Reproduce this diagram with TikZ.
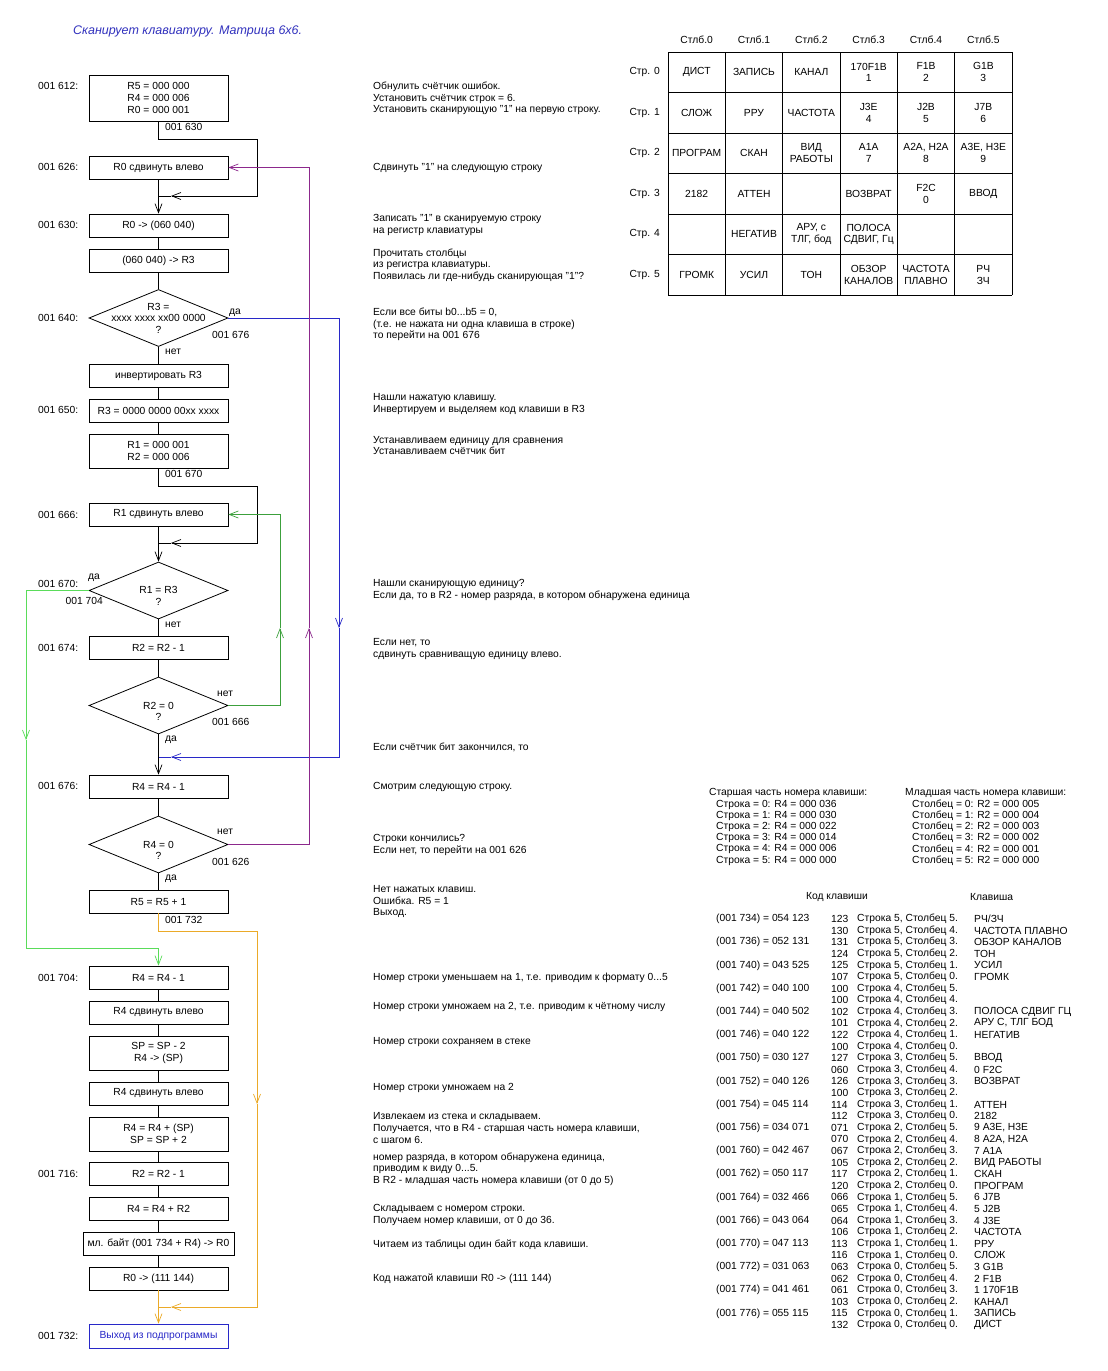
\documentclass[tikz,border=0pt]{standalone}
\usepackage{fontspec}
\setmainfont{Liberation Sans}
\usetikzlibrary{arrows.meta,shapes.geometric}

\definecolor{titel}{RGB}{50,50,190}
\definecolor{blau}{RGB}{40,40,200}
\definecolor{lila}{RGB}{140,40,140}
\definecolor{gruen}{RGB}{60,160,60}
\definecolor{hellgruen}{RGB}{90,220,90}
\definecolor{gelb}{RGB}{235,170,40}

\tikzset{
    schrift/.style={font=\fontsize{10.3}{11.6}\selectfont},
    blok/.style={draw, line width=0.8pt, minimum width=139pt, minimum height=23pt, inner sep=1pt, align=center, schrift},
    romb/.style={draw, diamond, line width=0.8pt, minimum width=139pt, minimum height=57pt, inner sep=0pt},
    marke/.style={anchor=west, inner sep=0pt, schrift},
    notiz/.style={anchor=west, inner sep=0pt, align=left, schrift},
    zelle/.style={inner sep=0pt, align=center, schrift},
    linie/.style={line width=0.7pt},
    pfeil/.style={linie, -{Straight Barb[length=9pt,width=7pt]}},
}

\begin{document}
\begin{tikzpicture}[x=1pt, y=-1pt]
    \useasboundingbox (0,0) rectangle (1108,1371);
    \fill[white] (0,0) rectangle (1108,1371);

    \node[marke, font=\fontsize{12.5}{14}\selectfont\itshape, text=titel] (titel) at (73,31) {Сканирует клавиатуру. Матрица 6х6.};

    % Blockschema
    \node[blok, minimum height=46pt] (b1) at (158.5,98) {R5 = 000 000\\R4 = 000 006\\R0 = 000 001};
    \node[blok] (b2) at (158.5,167.5) {R0 сдвинуть влево};
    \node[blok] (b3) at (158.5,225.5) {R0 -> (060 040)};
    \node[blok] (b4) at (158.5,260.5) {(060 040) -> R3};
    \node[romb] (d1) at (158.5,318) {};
    \node[zelle] (d1t) at (158.5,318) {R3 =\\xxxx xxxx xx00 0000\\?};
    \node[blok] (b5) at (158.5,376) {инвертировать R3};
    \node[blok] (b6) at (158.5,410.5) {R3 = 0000 0000 00xx xxxx};
    \node[blok, minimum height=34pt] (b7) at (158.5,451) {R1 = 000 001\\R2 = 000 006};
    \node[blok] (b8) at (158.5,514.5) {R1 сдвинуть влево};
    \node[romb] (d2) at (158.5,590.5) {};
    \node[zelle] (d2t) at (158.5,596) {R1 = R3\\?};
    \node[blok] (b9) at (158.5,647.5) {R2 = R2 - 1};
    \node[romb] (d3) at (158.5,705.5) {};
    \node[zelle] (d3t) at (158.5,711.5) {R2 = 0\\?};
    \node[blok] (b10) at (158.5,786.5) {R4 = R4 - 1};
    \node[romb] (d4) at (158.5,844.5) {};
    \node[zelle] (d4t) at (158.5,850.5) {R4 = 0\\?};
    \node[blok] (b11) at (158.5,901.5) {R5 = R5 + 1};
    \node[blok] (b12) at (158.5,977.5) {R4 = R4 - 1};
    \node[blok] (b13) at (158.5,1012.5) {R4 сдвинуть влево};
    \node[blok, minimum height=34pt] (b14) at (158.5,1053) {SP = SP - 2\\R4 -> (SP)};
    \node[blok] (b15) at (158.5,1093.5) {R4 сдвинуть влево};
    \node[blok, minimum height=34pt] (b16) at (158.5,1134) {R4 = R4 + (SP)\\SP = SP + 2};
    \node[blok] (b17) at (158.5,1173.5) {R2 = R2 - 1};
    \node[blok] (b18) at (158.5,1208.5) {R4 = R4 + R2};
    \node[blok, minimum width=151pt] (b19) at (158.5,1243.5) {мл. байт (001 734 + R4) -> R0};
    \node[blok] (b20) at (158.5,1278.5) {R0 -> (111 144)};
    \node[blok, draw=blau, text=blau, minimum height=24pt] (b21) at (158.5,1336) {Выход из подпрограммы};

    \foreach \a/\y in {612/86, 626/167, 630/225, 640/318, 650/410, 666/515, 670/584, 674/648, 676/786, 704/978, 716/1174, 732/1336} {
        \node[marke] (adr\a) at (38,\y) {001 \a:};
    }

    \node[marke] (n630) at (165,127) {001 630};
    \node[marke] (n670) at (165,474) {001 670};
    \node[marke] (n732) at (165,920) {001 732};
    \node[marke] (d1ja) at (229,313) {да};
    \node[marke] (d1z) at (212,335) {001 676};
    \node[marke] (d1ne) at (165,352) {нет};
    \node[marke, anchor=east] (d2ja) at (100,578) {да};
    \node[marke, anchor=east] (d2z) at (103,601) {001 704};
    \node[marke] (d2ne) at (165,625) {нет};
    \node[marke] (d3ne) at (217,694) {нет};
    \node[marke] (d3z) at (212,722) {001 666};
    \node[marke] (d3ja) at (165,740) {да};
    \node[marke] (d4ne) at (217,832) {нет};
    \node[marke] (d4z) at (212,862) {001 626};
    \node[marke] (d4ja) at (165,879) {да};

    \coordinate (s1a) at (158.5,139);
    \coordinate (s1b) at (257,196);
    \coordinate (s1c) at (171,196);
    \coordinate (s1d) at (158.5,196);
    \coordinate (s2a) at (158.5,486);
    \coordinate (s2b) at (257,543);
    \coordinate (s2c) at (171,543);
    \coordinate (s2d) at (158.5,543);
    \draw[pfeil] (b1.south) -- (s1a) -| (s1b) -- (s1c);
    \draw[linie] (s1c) -- (s1d);
    \draw[pfeil] (b2.south) -- (b3.north);
    \draw[linie] (b3.south) -- (b4.north);
    \draw[linie] (b4.south) -- (d1.north);
    \draw[linie] (d1.south) -- (b5.north);
    \draw[linie] (b5.south) -- (b6.north);
    \draw[linie] (b6.south) -- (b7.north);
    \draw[pfeil] (b7.south) -- (s2a) -| (s2b) -- (s2c);
    \draw[linie] (s2c) -- (s2d);
    \draw[pfeil] (b8.south) -- (d2.north);
    \draw[linie] (d2.south) -- (b9.north);
    \draw[linie] (b9.south) -- (d3.north);
    \draw[pfeil] (d3.south) -- (b10.north);
    \draw[linie] (b10.south) -- (d4.north);
    \draw[linie] (d4.south) -- (b11.north);
    \foreach \p/\q in {b12/b13, b13/b14, b14/b15, b15/b16, b16/b17, b17/b18, b18/b19, b19/b20} {
        \draw[linie] (\p.south) -- (\q.north);
    }

    % Sprungpfeile
    \coordinate (u1) at (339,628);
    \coordinate (u2) at (171,757);
    \coordinate (u3) at (158.5,757);
    \draw[pfeil, blau] (d1.east) -| (u1);
    \draw[pfeil, blau] (u1) |- (u2);
    \draw[linie, blau] (u2) -- (u3);

    \coordinate (g1) at (280,628);
    \draw[pfeil, gruen] (d3.east) -| (g1);
    \draw[pfeil, gruen] (g1) |- (b8.east);

    \coordinate (l1) at (309,628);
    \draw[pfeil, lila] (d4.east) -| (l1);
    \draw[pfeil, lila] (l1) |- (b2.east);

    \coordinate (h1) at (26,740);
    \coordinate (h2) at (158.5,948);
    \draw[pfeil, hellgruen] (d2.west) -| (h1);
    \draw[pfeil, hellgruen] (h1) |- (h2) -- (b12.north);

    \coordinate (o1) at (158.5,931);
    \coordinate (o2) at (257,1104);
    \coordinate (o3) at (171,1307);
    \coordinate (o4) at (158.5,1307);
    \draw[pfeil, gelb] (b11.south) -- (o1) -| (o2);
    \draw[pfeil, gelb] (o2) |- (o3);
    \draw[linie, gelb] (o3) -- (o4);
    \draw[pfeil, gelb] (b20.south) -- (b21.north);

    % Kommentare
    \node[notiz] (m1) at (373,98.5) {Обнулить счётчик ошибок.\\Установить счётчик строк = 6.\\Установить сканирующую "1" на первую строку.};
    \node[notiz] (m2) at (373,168) {Сдвинуть "1" на следующую строку};
    \node[notiz] (m3) at (373,225) {Записать "1" в сканируемую строку\\на регистр клавиатуры};
    \node[notiz] (m4) at (373,265) {Прочитать столбцы\\из регистра клавиатуры.\\Появилась ли где-нибудь сканирующая "1"?};
    \node[notiz] (m5) at (373,324.5) {Если все биты b0...b5 = 0,\\(т.е. не нажата ни одна клавиша в строке)\\то перейти на 001 676};
    \node[notiz] (m6) at (373,404) {Нашли нажатую клавишу.\\Инвертируем и выделяем код клавиши в R3};
    \node[notiz] (m7) at (373,445.5) {Устанавливаем единицу для сравнения\\Устанавливаем счётчик бит};
    \node[notiz] (m8) at (373,590) {Нашли сканирующую единицу?\\Если да, то в R2 - номер разряда, в котором обнаружена единица};
    \node[notiz] (m9) at (373,649) {Если нет, то\\сдвинуть сравниващую единицу влево.};
    \node[notiz] (m10) at (373,747) {Если счётчик бит закончился, то};
    \node[notiz] (m11) at (373,787) {Смотрим следующую строку.};
    \node[notiz] (m12) at (373,845) {Строки кончились?\\Если нет, то перейти на 001 626};
    \node[notiz] (m13) at (373,901.5) {Нет нажатых клавиш.\\Ошибка. R5 = 1\\Выход.};
    \node[notiz] (m14) at (373,978) {Номер строки уменьшаем на 1, т.е. приводим к формату 0...5};
    \node[notiz] (m15) at (373,1007) {Номер строки умножаем на 2, т.е. приводим к чётному числу};
    \node[notiz] (m16) at (373,1042) {Номер строки сохраняем в стеке};
    \node[notiz] (m17) at (373,1088) {Номер строки умножаем на 2};
    \node[notiz] (m18) at (373,1128) {Извлекаем из стека и складываем.\\Получается, что в R4 - старшая часть номера клавиши,\\с шагом 6.};
    \node[notiz] (m19) at (373,1169) {номер разряда, в котором обнаружена единица,\\приводим к виду 0...5.\\В R2 - младшая часть номера клавиши (от 0 до 5)};
    \node[notiz] (m20) at (373,1215) {Складываем с номером строки.\\Получаем номер клавиши, от 0 до 36.};
    \node[notiz] (m21) at (373,1245) {Читаем из таблицы один байт кода клавиши.};
    \node[notiz] (m22) at (373,1279) {Код нажатой клавиши R0 -> (111 144)};

    % Matrix
    \foreach \i in {0,...,6} {
        \draw[linie] (668,{52+40.5*\i}) -- (1012,{52+40.5*\i});
        \draw[linie] ({668+57.33*\i},52) -- ({668+57.33*\i},295);
    }
    \foreach \j in {0,...,5} {
        \node[zelle] (kopf\j) at ({668+57.33*(\j+0.5)},40) {Стлб.\j};
    }
    \foreach \zeile [count=\i from 0] in {
        {ДИСТ,ЗАПИСЬ,КАНАЛ,170F1B\\1,F1B\\2,G1B\\3},
        {СЛОЖ,РРУ,ЧАСТОТА,J3E\\4,J2B\\5,J7B\\6},
        {ПРОГРАМ,СКАН,ВИД\\РАБОТЫ,A1A\\7,{A2A, H2A\\8},{A3E, H3E\\9}},
        {2182,АТТЕН,{},ВОЗВРАТ,F2C\\0,ВВОД},
        {{},НЕГАТИВ,{АРУ, с\\ТЛГ, бод},{ПОЛОСА\\СДВИГ, Гц},{},{}},
        {ГРОМК,УСИЛ,ТОН,ОБЗОР\\КАНАЛОВ,ЧАСТОТА\\ПЛАВНО,РЧ\\ЗЧ}} {
        \node[marke, anchor=east] (str\i) at (660,{52+40.5*(\i+0.5)}) {Стр. \i};
        \foreach \zelle [count=\j from 0] in \zeile {
            \node[zelle] (z\i\j) at ({668+57.33*(\j+0.5)},{52+40.5*(\i+0.5)}) {\zelle};
        }
    }

    % Nummern der Tasten
    \node[notiz] (alt) at (709,793) {Старшая часть номера клавиши:};
    \node[notiz] (jung) at (905,793) {Младшая часть номера клавиши:};
    \foreach \i/\w in {0/036, 1/030, 2/022, 3/014, 4/006, 5/000} {
        \pgfmathtruncatemacro{\v}{5-\i}
        \node[notiz] (alt\i) at (716,{804.5+11.2*\i}) {Строка = \i: R4 = 000 \w};
        \node[notiz] (jung\i) at (912,{804.5+11.2*\i}) {Столбец = \i: R2 = 000 00\v};
    }

    \node[zelle] (hkod) at (837,897) {Код клавиши};
    \node[marke] (htas) at (970,897) {Клавиша};

    \foreach \a/\w [count=\k from 0] in {734/054 123, 736/052 131, 740/043 525, 742/040 100, 744/040 502, 746/040 122, 750/030 127, 752/040 126, 754/045 114, 756/034 071, 760/042 467, 762/050 117, 764/032 466, 766/043 064, 770/047 113, 772/031 063, 774/041 461, 776/055 115} {
        \node[marke] (wort\k) at (716,{919+23.2*\k}) {(001 \a) = \w};
    }
    \foreach \c/\n [count=\k from 0] in {123/{РЧ/ЗЧ}, 130/ЧАСТОТА ПЛАВНО, 131/ОБЗОР КАНАЛОВ, 124/ТОН, 125/УСИЛ, 107/ГРОМК,
        100/{}, 100/{}, 102/ПОЛОСА СДВИГ ГЦ, {101/АРУ С, ТЛГ БОД}, 122/НЕГАТИВ, 100/{},
        127/ВВОД, 060/0 F2C, 126/ВОЗВРАТ, 100/{}, 114/АТТЕН, 112/2182,
        {071/9 A3E, H3E}, {070/8 A2A, H2A}, 067/7 A1A, 105/ВИД РАБОТЫ, 117/СКАН, 120/ПРОГРАМ,
        066/6 J7B, 065/5 J2B, 064/4 J3E, 106/ЧАСТОТА, 113/РРУ, 116/СЛОЖ,
        063/3 G1B, 062/2 F1B, 061/1 170F1B, 103/КАНАЛ, 115/ЗАПИСЬ, 132/ДИСТ} {
        \pgfmathtruncatemacro{\r}{5-floor(\k/6)}
        \pgfmathtruncatemacro{\s}{5-mod(\k,6)}
        \node[marke] (kod\k) at (831,{919+11.6*\k}) {\c};
        \node[marke] (pos\k) at (857,{919+11.6*\k}) {Строка \r, Столбец \s.};
        \node[marke] (tas\k) at (974,{919+11.6*\k}) {\n};
    }
\end{tikzpicture}
\end{document}
